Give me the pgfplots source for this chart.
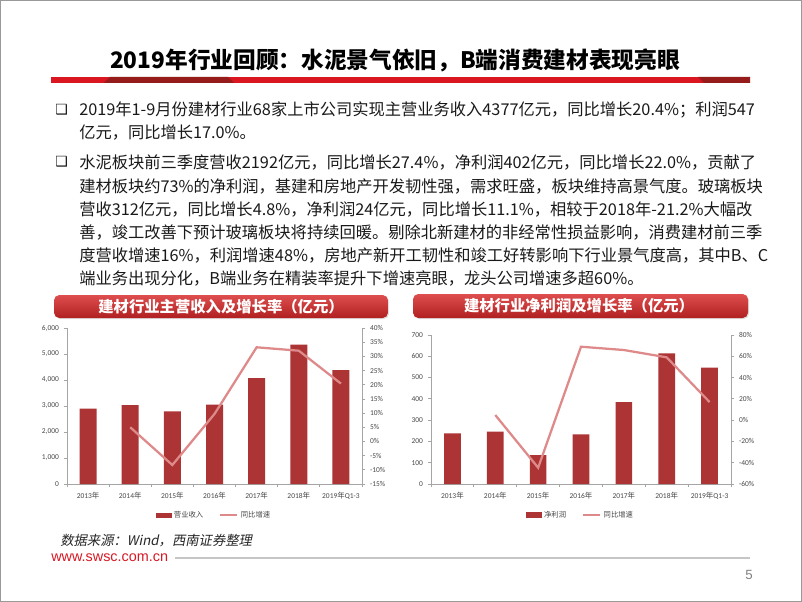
\documentclass[border=0pt]{standalone}
\usepackage{pgfplots}
\pgfplotsset{compat=1.18}
\usepackage{fontspec}
\usetikzlibrary{shadows}
\setmainfont{Noto Sans CJK SC}
\newfontfamily\calib{Carlito}
\newfontfamily\kai{Noto Sans CJK SC}[FakeSlant=0.2]
\newfontfamily\arial{Liberation Sans}
\newfontfamily\sym{DejaVu Sans}

\definecolor{barred}{RGB}{172,52,52}
\definecolor{linepink}{RGB}{222,138,138}
\definecolor{axisgray}{RGB}{165,165,165}
\definecolor{tickgray}{RGB}{70,70,70}
\definecolor{titlered}{RGB}{218,22,32}
\definecolor{titledark}{RGB}{150,28,28}
\definecolor{bannertop}{RGB}{222,78,78}
\definecolor{bannerbot}{RGB}{176,32,32}
\definecolor{urlred}{RGB}{214,24,36}

\pgfplotsset{
  duo/.style={
    scale only axis,
    xmin=-0.5, xmax=6.5,
    tick align=outside,
    major tick length=2.5pt, minor tick length=2.5pt,
    tick style={axisgray, line width=0.6pt},
    axis line style={axisgray, line width=0.6pt},
    ticklabel style={font=\calib\fontsize{5.6}{6}\selectfont, text=tickgray},
    /pgf/number format/1000 sep={,},
    /pgf/number format/assume math mode=true,
  },
  barleg/.style={legend image code/.code={\fill[barred] (0pt,-1.7pt) rectangle (11pt,1.7pt);}},
  lineleg/.style={legend image code/.code={\draw[linepink, line width=1.2pt] (0pt,0pt) -- (13pt,0pt);}},
  legsty/.style={
    legend style={at={(0.5,#1)}, anchor=center, draw=none, fill=none,
      font=\fontsize{5.5}{6}\selectfont, text=tickgray, inner sep=0pt,
      legend columns=2, /tikz/every even column/.append style={column sep=10pt}},
    legend cell align=left,
  },
}

\begin{document}
\begin{tikzpicture}[x=0.75pt,y=-0.75pt]
\path (0,0) rectangle (802,602);
\draw[gray!80, line width=0.8pt] (0.6,0.6) rectangle (801.4,601.4);

% title
\node[font=\fontsize{17}{19}\selectfont\bfseries] at (395,60) {2019年行业回顾：水泥景气依旧，B端消费建材表现亮眼};
\fill[titlered] (51,77) rectangle (750,83);
\fill[titledark] (110,77) -- (228,77) -- (234,83) -- (104,83) -- cycle;
\fill[titledark] (698,77) -- (750,77) -- (750,83) -- (704,83) -- cycle;

% body text
\begin{scope}[every node/.style={anchor=west, inner sep=0pt, font=\fontsize{12.2}{14}\selectfont, text=black!90}]
\node[font=\sym\bfseries\fontsize{10.5}{12}\selectfont] at (55,110) {❑};
\node at (79,110) {2019年1-9月份建材行业68家上市公司实现主营业务收入4377亿元，同比增长20.4\%；利润547};
\node at (79,133) {亿元，同比增长17.0\%。};
\node[font=\sym\bfseries\fontsize{10.5}{12}\selectfont] at (55,162) {❑};
\node at (79,162) {水泥板块前三季度营收2192亿元，同比增长27.4\%，净利润402亿元，同比增长22.0\%，贡献了};
\node at (79,186) {建材板块约73\%的净利润，基建和房地产开发韧性强，需求旺盛，板块维持高景气度。玻璃板块};
\node at (79,209) {营收312亿元，同比增长4.8\%，净利润24亿元，同比增长11.1\%，相较于2018年-21.2\%大幅改};
\node at (79,232) {善，竣工改善下预计玻璃板块将持续回暖。剔除北新建材的非经常性损益影响，消费建材前三季};
\node at (79,255) {度营收增速16\%，利润增速48\%，房地产新开工韧性和竣工好转影响下行业景气度高，其中B、C};
\node at (79,278) {端业务出现分化，B端业务在精装率提升下增速亮眼，龙头公司增速多超60\%。};
\end{scope}

% banners
\shade[top color=bannertop, bottom color=bannerbot, rounded corners=4pt,
  drop shadow={opacity=0.25, shadow xshift=0.8pt, shadow yshift=-0.8pt}]
  (54,295) rectangle (388,318);
\node[text=white, font=\fontsize{11.5}{13}\selectfont\bfseries] at (221,306.5) {建材行业主营收入及增长率（亿元）};
\shade[top color=bannertop, bottom color=bannerbot, rounded corners=4pt,
  drop shadow={opacity=0.25, shadow xshift=0.8pt, shadow yshift=-0.8pt}]
  (413,294) rectangle (748,318);
\node[text=white, font=\fontsize{11.5}{13}\selectfont\bfseries] at (579,306) {建材行业净利润及增长率（亿元）};

% left chart: revenue
\begin{axis}[duo,
  at={(50.25pt,-363pt)}, anchor=south west,
  width=221.25pt, height=117pt,
  ymin=0, ymax=6000, ytick={0,1000,...,6000},
  axis y line*=left, axis x line*=bottom,
  xtick={0,...,6},
  xticklabels={2013{\rmfamily 年},2014{\rmfamily 年},2015{\rmfamily 年},2016{\rmfamily 年},2017{\rmfamily 年},2018{\rmfamily 年},2019{\rmfamily 年}Q1-3},
  major x tick style={draw=none},
  minor xtick={-0.5,0.5,...,6.5},
]
\addplot[ybar, bar width=12.75pt, fill=barred, draw=none] coordinates {
(0,2900) (1,3030) (2,2790) (3,3050) (4,4070) (5,5360) (6,4377)};
\end{axis}
\begin{axis}[duo, legsty=-0.2,
  at={(50.25pt,-363pt)}, anchor=south west,
  width=221.25pt, height=117pt,
  ymin=-15, ymax=40, ytick={-15,-10,...,40},
  yticklabel={\pgfmathprintnumber{\tick}\%},
  axis y line*=right, axis x line=none,
]
\addlegendimage{barleg}
\addlegendentry{营业收入}
\addplot[lineleg, linepink, line width=1.7pt, mark=none] coordinates {
(1,5.0) (2,-8.3) (3,9.7) (4,33.2) (5,32.0) (6,20.4)};
\addlegendentry{同比增速}
\end{axis}

% right chart: net profit
\begin{axis}[duo,
  at={(323.25pt,-363pt)}, anchor=south west,
  width=225pt, height=111.75pt,
  ymin=0, ymax=700, ytick={0,100,...,700},
  axis y line*=left, axis x line*=bottom,
  xtick={0,...,6},
  xticklabels={2013{\rmfamily 年},2014{\rmfamily 年},2015{\rmfamily 年},2016{\rmfamily 年},2017{\rmfamily 年},2018{\rmfamily 年},2019{\rmfamily 年}Q1-3},
  major x tick style={draw=none},
  minor xtick={-0.5,0.5,...,6.5},
]
\addplot[ybar, bar width=12.5pt, fill=barred, draw=none] coordinates {
(0,238) (1,246) (2,136) (3,233) (4,385) (5,614) (6,547)};
\end{axis}
\begin{axis}[duo, legsty=-0.208,
  at={(323.25pt,-363pt)}, anchor=south west,
  width=225pt, height=111.75pt,
  ymin=-60, ymax=80, ytick={-60,-40,...,80},
  yticklabel={\pgfmathprintnumber{\tick}\%},
  axis y line*=right, axis x line=none,
]
\addlegendimage{barleg}
\addlegendentry{净利润}
\addplot[lineleg, linepink, line width=1.7pt, mark=none] coordinates {
(1,4.8) (2,-44.7) (3,69.0) (4,65.9) (5,59.0) (6,17.0)};
\addlegendentry{同比增速}
\end{axis}

% footer
\node[anchor=west, inner sep=0pt, font=\kai\fontsize{10}{12}\selectfont, text=black!85] at (60,541) {数据来源：Wind，西南证券整理};
\node[anchor=west, inner sep=0pt, font=\arial\fontsize{10.8}{12}\selectfont, text=urlred] at (51,558) {www.swsc.com.cn};
\draw[gray!45, line width=1.1pt] (175,558) -- (750,558);
\node[anchor=east, inner sep=0pt, font=\arial\fontsize{10}{12}\selectfont, text=gray] at (753,575) {5};
\end{tikzpicture}
\end{document}
